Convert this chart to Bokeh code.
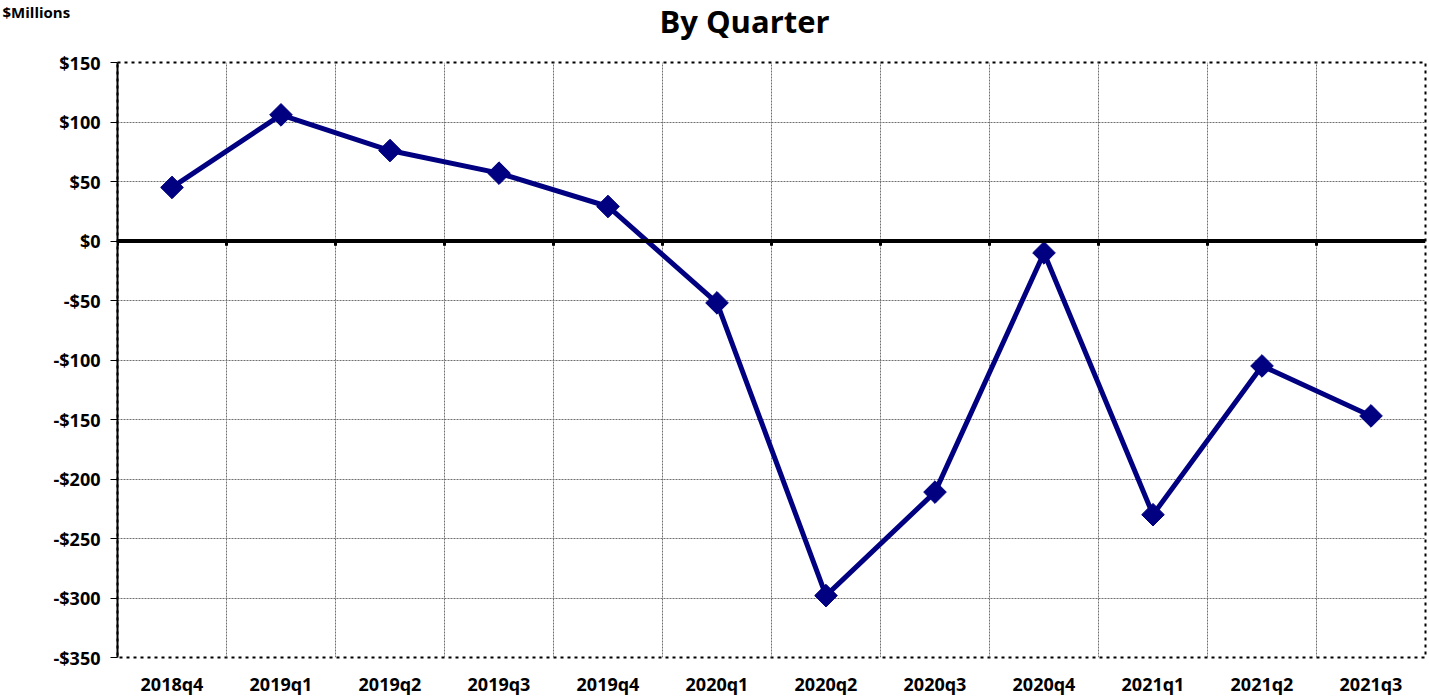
from bokeh.plotting import figure
from bokeh.models import Range1d, FixedTicker, Span, Label
from bokeh.embed import file_html
from bokeh.resources import INLINE

quarters = ["2018q4", "2019q1", "2019q2", "2019q3", "2019q4", "2020q1",
            "2020q2", "2020q3", "2020q4", "2021q1", "2021q2", "2021q3"]
values = [45, 106, 76, 57, 29, -52, -298, -211, -10, -230, -105, -147]
y_ticks = [-350, -300, -250, -200, -150, -100, -50, 0, 50, 100, 150]

FONT = "Open Sans"
W, H = 1429, 699
ML, MR, MT, MB = 117, 4, 47, 42

xs = [i + 0.5 for i in range(len(quarters))]

p = figure(width=W, height=H, output_backend="svg", toolbar_location=None,
           x_range=Range1d(0, len(quarters)), y_range=Range1d(-350, 150),
           min_border_left=ML, min_border_right=MR, min_border_top=MT, min_border_bottom=MB)

p.outline_line_color = "black"
p.outline_line_width = 2
p.outline_line_dash = "3 4"

# grids
p.xgrid.ticker = FixedTicker(ticks=list(range(1, len(quarters))))
p.xgrid.grid_line_color = "#707070"
p.xgrid.grid_line_dash = "2 1"
p.xgrid.grid_line_width = 1
p.ygrid.ticker = FixedTicker(ticks=y_ticks)
p.ygrid.grid_line_color = "#707070"
p.ygrid.grid_line_dash = "2 1"
p.ygrid.grid_line_width = 1

# x axis
p.xaxis.ticker = FixedTicker(ticks=xs)
p.xaxis.major_label_overrides = {x: q for x, q in zip(xs, quarters)}
p.xaxis.axis_line_color = None
p.xaxis.major_tick_line_color = None
p.xaxis.major_tick_out = 0
p.xaxis.major_tick_in = 0
p.xaxis.minor_tick_line_color = None
p.xaxis.axis_label_standoff = 0
p.xaxis.major_label_text_font = FONT
p.xaxis.major_label_text_font_style = "bold"
p.xaxis.major_label_text_font_size = "18px"
p.xaxis.major_label_text_color = "black"
p.xaxis.major_label_standoff = 14

# y axis
def fmt(v):
    return ("-$" if v < 0 else "$") + str(abs(v))

p.yaxis.ticker = FixedTicker(ticks=y_ticks)
p.yaxis.major_label_overrides = {v: fmt(v) for v in y_ticks}
p.yaxis.axis_line_color = "black"
p.yaxis.axis_line_width = 2
p.yaxis.major_tick_line_color = "black"
p.yaxis.major_tick_line_width = 1
p.yaxis.major_tick_out = 7
p.yaxis.major_tick_in = 0
p.yaxis.minor_tick_line_color = None
p.yaxis.major_label_text_font = FONT
p.yaxis.major_label_text_font_style = "bold"
p.yaxis.major_label_text_font_size = "18px"
p.yaxis.major_label_text_color = "black"
p.yaxis.major_label_standoff = 10

# zero line
p.add_layout(Span(location=0, dimension="width", line_color="black", line_width=4))
# small tick marks on zero line at category boundaries
bounds = list(range(0, len(quarters)))
p.segment(x0=bounds, y0=[0] * len(bounds), x1=bounds, y1=[-4] * len(bounds),
          line_color="black", line_width=3)

# series
p.line(xs, values, line_color="#000080", line_width=5)
p.scatter(xs, values, marker="square", angle=0.7854, size=16,
          fill_color="#000080", line_color="#000080")

# title and unit label placed in the top side panel (not clipped there)
p.add_layout(Label(x=744 - ML, y=42, x_units="screen", y_units="screen",
                   text="By Quarter", text_align="center", text_baseline="alphabetic",
                   text_font=FONT, text_font_style="bold", text_font_size="31px",
                   text_color="black"), "above")
p.add_layout(Label(x=2 - ML, y=9, x_units="screen", y_units="screen",
                   text="$Millions", text_align="left", text_baseline="alphabetic",
                   text_font=FONT, text_font_style="bold", text_font_size="15px",
                   text_color="black"), "above")

open("out.html", "w").write(file_html(p, INLINE))
